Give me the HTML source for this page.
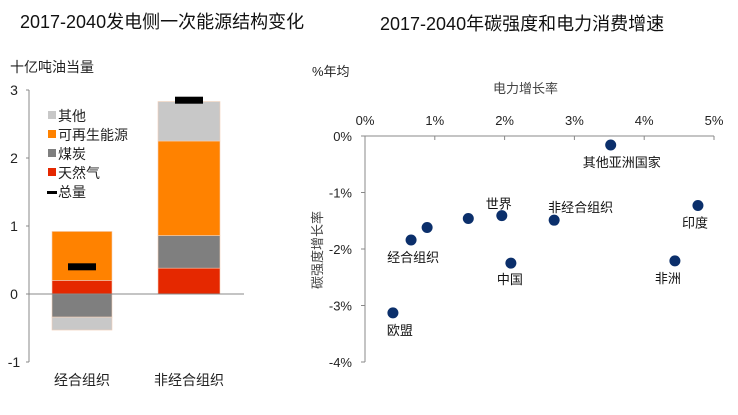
<!DOCTYPE html>
<html><head><meta charset="utf-8">
<style>
body{margin:0;background:#fff;width:738px;height:410px;overflow:hidden}
svg text{font-family:"Liberation Sans","Noto Sans CJK SC",sans-serif}
</style></head>
<body>
<svg id="c" width="738" height="410" xmlns="http://www.w3.org/2000/svg">
<text x="20" y="28" font-size="18" fill="#111">2017-2040发电侧一次能源结构变化</text>
<text x="380" y="30" font-size="18" fill="#111">2017-2040年碳强度和电力消费增速</text>
<text x="10" y="72" font-size="14" fill="#222">十亿吨油当量</text>
<text x="312" y="76" font-size="13" fill="#222">%年均</text>
<text x="493" y="93" font-size="13" fill="#444">电力增长率</text>
<text transform="translate(322,250) rotate(-90)" text-anchor="middle" font-size="13" fill="#444">碳强度增长率</text>
<g id="left"></g><g id="right"></g>
</svg>
<script>
const barCats=["经合组织","非经合组织"];
const gas=[0.2,0.38];
const renew=[0.72,1.39];
const coal=[-0.34,0.48];
const other=[-0.19,0.58];
const totals=[0.4,2.85];
const yTicks=[3,2,1,0,-1];

const ptNames=["其他亚洲国家","印度","非洲","非经合组织","世界","中国","","","经合组织","欧盟"];
const ptX=[3.52,4.77,4.44,2.71,1.96,2.09,1.48,0.89,0.66,0.40];
const ptY=[-0.16,-1.23,-2.21,-1.49,-1.41,-2.25,-1.46,-1.62,-1.84,-3.13];
const xTicksS=[0,1,2,3,4,5];
const yTicksS=[0,-1,-2,-3,-4];

const NS="http://www.w3.org/2000/svg";
function mk(p,t,a){const e=document.createElementNS(NS,t);for(const k in a)e.setAttribute(k,a[k]);p.appendChild(e);return e;}
const L=document.getElementById('left'),R=document.getElementById('right');

// left chart
const ly=v=>294-v*68;
let ax=mk(L,'line',{x1:29,y1:ly(3),x2:29,y2:ly(-1),stroke:'#888'});

yTicks.forEach(v=>{
 const tk=mk(L,'line',{x1:26,x2:29,y1:ly(v),y2:ly(v),stroke:'#888'});
 
 const t=mk(L,'text',{x:14,y:ly(v)+5,'text-anchor':'middle','font-size':14,fill:'#222'});t.textContent=v;
 
});
const bx=[52,158],bw=[60,62];
barCats.forEach((c,i)=>{
 let pos=0,neg=0;
 const segs=[[gas[i],'#e52800','gas'],[coal[i],'#7f7f7f','coal'],[renew[i],'#ff8200','renewables'],[other[i],'#c8c8c8','other']];
 segs.forEach(([v,col,n])=>{
  let y0,y1;
  if(v>=0){y0=pos;y1=pos+v;pos=y1;}else{y0=neg;y1=neg+v;neg=y1;}
  const r=mk(L,'rect',{x:bx[i],y:ly(Math.max(y0,y1)),width:bw[i],height:Math.abs(ly(y0)-ly(y1)),fill:col,stroke:'#f3d0b8','stroke-width':0.6});
  
 });
 const m=mk(L,'rect',{x:bx[i]+bw[i]/2-14,y:ly(totals[i])-3.5,width:28,height:7,fill:'#000'});
 
 const t=mk(L,'text',{x:bx[i]+bw[i]/2,y:385,'text-anchor':'middle','font-size':14,fill:'#222'});t.textContent=c;
 
});
let z=mk(L,'line',{x1:29,x2:244,y1:ly(0),y2:ly(0),stroke:'#888'});

const leg=[['其他','#c8c8c8','sq'],['可再生能源','#ff8200','sq'],['煤炭','#7f7f7f','sq'],['天然气','#e52800','sq'],['总量','#000','ln']];
leg.forEach((l,k)=>{
 const y=116+k*19;
 const g=mk(L,'g',{});
 if(l[2]=='sq')mk(g,'rect',{x:48,y:y-5,width:8,height:8,fill:l[1]});else mk(g,'rect',{x:47,y:y-1,width:10,height:3,fill:'#000'});
 const t=mk(g,'text',{x:58,y:y+5,'font-size':14,fill:'#222'});t.textContent=l[0];
});

// right chart
const sx=v=>365+v*69.8, sy=v=>136-v*56.5;
let a1=mk(R,'line',{x1:365,x2:365,y1:136,y2:362,stroke:'#888'});

let a2=mk(R,'line',{x1:365,x2:sx(5),y1:136,y2:136,stroke:'#888'});

xTicksS.forEach(v=>{
 const tk=mk(R,'line',{x1:sx(v),x2:sx(v),y1:136,y2:140,stroke:'#888'});
 
 const t=mk(R,'text',{x:sx(v),y:125,'text-anchor':'middle','font-size':13,fill:'#222'});t.textContent=v+'%';
 
});
yTicksS.forEach(v=>{
 const tk=mk(R,'line',{x1:361,x2:365,y1:sy(v),y2:sy(v),stroke:'#888'});
 
 const t=mk(R,'text',{x:352,y:sy(v)+5,'text-anchor':'end','font-size':13,fill:'#222'});t.textContent=v+'%';
 
});
const off={"其他亚洲国家":[-28,22],"印度":[-16,22],"非洲":[-20,22],"非经合组织":[-6,-8],"世界":[-16,-7],"中国":[-14,21],"经合组织":[-24,22],"欧盟":[-6,22]};
ptNames.forEach((n,i)=>{
 const c=mk(R,'circle',{cx:sx(ptX[i]),cy:sy(ptY[i]),r:5.5,fill:'#0b2f6b'});
 
 if(n){const o=off[n];const t=mk(R,'text',{x:sx(ptX[i])+o[0],y:sy(ptY[i])+o[1],'font-size':13,fill:'#111'});t.textContent=n;
 }
});
</script>
</body></html>
